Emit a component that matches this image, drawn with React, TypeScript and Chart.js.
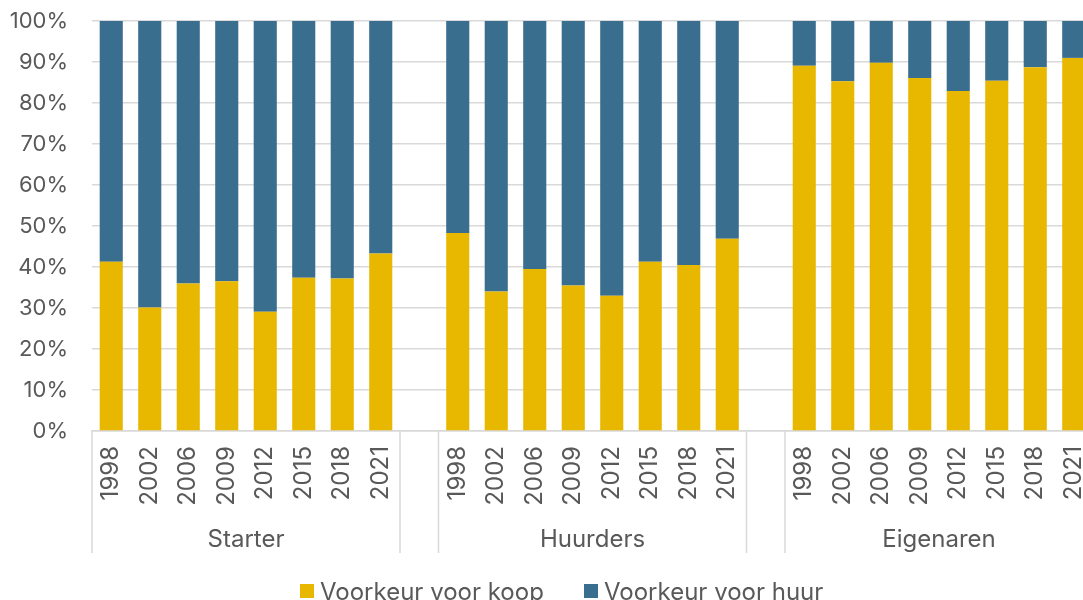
import React, { useEffect, useRef } from "react";
import { Chart, registerables } from "chart.js";

Chart.register(...registerables);

const groups = ["Starter", "Huurders", "Eigenaren"];
const years = ["1998", "2002", "2006", "2009", "2012", "2015", "2018", "2021"];

const koopStarter = [41.3, 30.1, 36.0, 36.5, 29.1, 37.4, 37.2, 43.3];
const koopHuurders = [48.3, 34.0, 39.5, 35.5, 33.0, 41.3, 40.5, 46.9];
const koopEigenaren = [89.1, 85.3, 89.8, 86.1, 82.9, 85.4, 88.7, 91.0];

const seriesNames = ["Voorkeur voor koop", "Voorkeur voor huur"];
const seriesColors = ["#E8B800", "#3A6E8F"];
const yTicks = [0, 10, 20, 30, 40, 50, 60, 70, 80, 90, 100];

const TEXT = "#595959";
const GRID = "#D9D9D9";
const FONT = "Inter, 'Noto Sans', sans-serif";

export default function App() {
  const ref = useRef<HTMLCanvasElement | null>(null);

  useEffect(() => {
    if (!ref.current) return;
    const groupData = [koopStarter, koopHuurders, koopEigenaren];
    const labels: string[] = [];
    const koop: (number | null)[] = [];
    const huur: (number | null)[] = [];
    const groupRanges: { name: string; start: number; end: number }[] = [];
    groupData.forEach((g, gi) => {
      if (gi > 0) {
        labels.push("");
        koop.push(null);
        huur.push(null);
      }
      const start = labels.length;
      years.forEach((y, i) => {
        labels.push(y);
        koop.push(g[i]);
        huur.push(Math.round((100 - g[i]) * 10) / 10);
      });
      groupRanges.push({ name: groups[gi], start, end: labels.length - 1 });
    });

    const groupPlugin = {
      id: "groupLabels",
      afterDraw(chart: any) {
        const ctx = chart.ctx;
        const xs = chart.scales.x;
        const area = chart.chartArea;
        const slot = xs.getPixelForValue(1) - xs.getPixelForValue(0);
        ctx.save();
        ctx.strokeStyle = GRID;
        ctx.lineWidth = 1.5;
        const edges: number[] = [];
        groupRanges.forEach((r) => {
          edges.push(xs.getPixelForValue(r.start) - slot / 2);
          edges.push(xs.getPixelForValue(r.end) + slot / 2);
        });
        edges.forEach((x) => {
          ctx.beginPath();
          ctx.moveTo(x, area.bottom);
          ctx.lineTo(x, 553);
          ctx.stroke();
        });
        ctx.fillStyle = TEXT;
        ctx.font = `24px ${FONT}`;
        ctx.textAlign = "center";
        ctx.textBaseline = "alphabetic";
        groupRanges.forEach((r) => {
          const cx = (xs.getPixelForValue(r.start) + xs.getPixelForValue(r.end)) / 2;
          ctx.fillText(r.name, cx, 547);
        });
        // legend
        ctx.textAlign = "left";
        const boxX = [300, 584];
        seriesNames.forEach((n, i) => {
          ctx.fillStyle = seriesColors[i];
          ctx.fillRect(boxX[i], 584, 14, 14);
          ctx.fillStyle = TEXT;
          ctx.fillText(n, boxX[i] + 20, 600);
        });
        ctx.restore();
      },
    };

    const chart = new Chart(ref.current, {
      type: "bar",
      data: {
        labels,
        datasets: [
          {
            label: seriesNames[0],
            data: koop,
            backgroundColor: seriesColors[0],
            borderWidth: 0,
            barPercentage: 0.6,
            categoryPercentage: 1,
          },
          {
            label: seriesNames[1],
            data: huur,
            backgroundColor: seriesColors[1],
            borderWidth: 0,
            barPercentage: 0.6,
            categoryPercentage: 1,
          },
        ],
      },
      options: {
        animation: false,
        responsive: false,
        maintainAspectRatio: false,
        layout: { padding: { top: 21, left: 0, right: 7, bottom: 0 } },
        plugins: {
          legend: { display: false },
          tooltip: { enabled: false },
        },
        scales: {
          x: {
            stacked: true,
            offset: true,
            grid: { display: false, drawTicks: false },
            border: { display: true, color: GRID, width: 1.5 },
            ticks: {
              autoSkip: false,
              minRotation: 90,
              maxRotation: 90,
              padding: 15,
              color: TEXT,
              font: { family: FONT, size: 24 },
            },
            afterFit(scale: any) {
              scale.height = 189;
              scale.paddingLeft = 0;
              scale.paddingRight = 0;
            },
          },
          y: {
            stacked: true,
            min: 0,
            max: 100,
            afterBuildTicks(scale: any) {
              scale.ticks = yTicks.map((v) => ({ value: v }));
            },
            grid: { color: GRID, lineWidth: 1.5, drawTicks: false },
            border: { display: false },
            ticks: {
              padding: 24,
              color: TEXT,
              font: { family: FONT, size: 22 },
              callback: (v: any) => `${v}%`,
            },
            afterFit(scale: any) {
              scale.width = 92;
              scale.paddingTop = 0;
              scale.paddingBottom = 0;
            },
          },
        },
      },
      plugins: [groupPlugin],
    });
    return () => chart.destroy();
  }, []);

  return (
    <div
      style={{
        position: "fixed",
        left: 0,
        top: 0,
        width: 1083,
        height: 600,
        overflow: "hidden",
        background: "#fff",
      }}
    >
      <canvas ref={ref} width={1100} height={620} style={{ width: 1100, height: 620 }} />
    </div>
  );
}
